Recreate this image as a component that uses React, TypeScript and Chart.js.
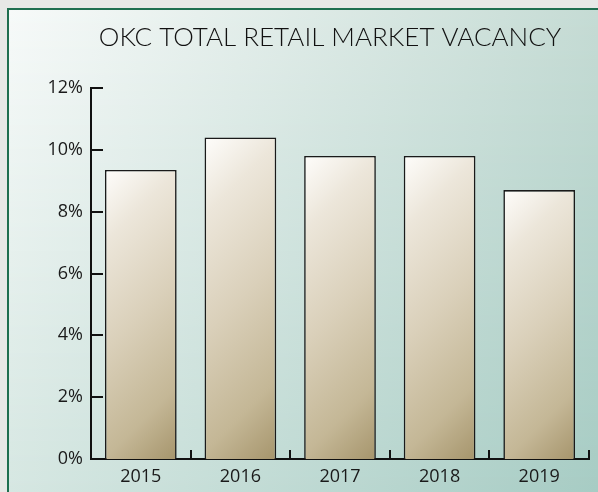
import React, { useEffect, useRef } from "react";
import { Chart, registerables } from "chart.js";

Chart.register(...registerables);

const TITLE = "OKC TOTAL RETAIL MARKET VACANCY";
const YEARS = ["2015", "2016", "2017", "2018", "2019"];
const VACANCY = [9.35, 10.4, 9.8, 9.8, 8.7];
const Y_TICKS = [0, 2, 4, 6, 8, 10, 12];

type RGB = [number, number, number];
const TL: RGB = [247, 250, 249];
const TR: RGB = [197, 219, 212];
const BL: RGB = [214, 231, 226];
const BR: RGB = [167, 204, 196];

const toCss = (a: RGB): string =>
  `rgb(${Math.round(a[0])},${Math.round(a[1])},${Math.round(a[2])})`;
const mix = (a: RGB, b: RGB, t: number): RGB => [
  a[0] + (b[0] - a[0]) * t,
  a[1] + (b[1] - a[1]) * t,
  a[2] + (b[2] - a[2]) * t,
];

const panelPlugin = {
  id: "panel",
  beforeDraw(chart: any) {
    const { ctx, width, height } = chart;
    ctx.save();
    ctx.fillStyle = "#e7e8e6";
    ctx.fillRect(0, 0, width, height);
    const px = 8;
    const py = 9;
    const pw = width - px;
    const ph = height - py;
    for (let y = py; y < height; y += 2) {
      const v = (y - py) / ph;
      const g = ctx.createLinearGradient(px, 0, width, 0);
      g.addColorStop(0, toCss(mix(TL, BL, v)));
      g.addColorStop(1, toCss(mix(TR, BR, v)));
      ctx.fillStyle = g;
      ctx.fillRect(px, y, pw, 2);
    }
    ctx.fillStyle = "#1f6e4f";
    ctx.fillRect(7, 8, 2, height - 8);
    ctx.fillRect(7, 8, width - 7, 2);
    ctx.restore();
  },
  afterDraw(chart: any) {
    const { ctx, chartArea, scales } = chart;
    ctx.save();
    ctx.fillStyle = "#111";
    ctx.font = "300 26px Lato";
    ctx.textAlign = "center";
    ctx.textBaseline = "alphabetic";
    ctx.fillText(TITLE, 330, 46);
    ctx.strokeStyle = "#111";
    ctx.lineWidth = 2;
    ctx.beginPath();
    for (const v of Y_TICKS) {
      if (v === 0) continue;
      const y = Math.round(scales.y.getPixelForValue(v));
      ctx.moveTo(chartArea.left, y);
      ctx.lineTo(chartArea.left + 12, y);
    }
    for (let i = 0; i < YEARS.length; i++) {
      const x =
        i === YEARS.length - 1
          ? chartArea.right
          : (scales.x.getPixelForValue(i) + scales.x.getPixelForValue(i + 1)) / 2;
      const xr = Math.round(x);
      ctx.moveTo(xr, chartArea.bottom);
      ctx.lineTo(xr, chartArea.bottom - 9);
    }
    ctx.stroke();
    ctx.restore();
  },
};

export default function App() {
  const ref = useRef<HTMLCanvasElement | null>(null);

  useEffect(() => {
    document.body.style.margin = "0";
    document.body.style.background = "#e7e8e6";
    const canvas = ref.current;
    if (!canvas) return;
    const chart = new Chart(canvas, {
      type: "bar",
      data: {
        labels: YEARS,
        datasets: [
          {
            data: VACANCY,
            borderColor: "#1a1a1a",
            borderWidth: 1.6,
            categoryPercentage: 1,
            barPercentage: 0.72,
            backgroundColor: (c: any) => {
              const ch = c.chart;
              const sc = ch.scales;
              if (!ch.chartArea || c.type !== "data" || !sc || !sc.x || !sc.y) return "#c9bc9c";
              const i = c.dataIndex;
              const cat = sc.x.getPixelForValue(1) - sc.x.getPixelForValue(0);
              const w = cat * 0.72;
              const x0 = sc.x.getPixelForValue(i) - w / 2;
              const top = sc.y.getPixelForValue(VACANCY[i]);
              const bottom = sc.y.getPixelForValue(0);
              const h = bottom - top;
              const d = (w + h) / 2;
              const g = ch.ctx.createLinearGradient(x0, top, x0 + d, top + d);
              g.addColorStop(0, "#fefdfb");
              g.addColorStop(0.2, "#ece6da");
              g.addColorStop(0.5, "#dad0ba");
              g.addColorStop(0.8, "#c4b796");
              g.addColorStop(1, "#a6956c");
              return g;
            },
          },
        ],
      },
      options: {
        animation: false,
        responsive: true,
        maintainAspectRatio: false,
        layout: { padding: { top: 88, right: 9, left: 0, bottom: 0 } },
        plugins: {
          legend: { display: false },
          title: { display: false },
          tooltip: { enabled: false },
        },
        scales: {
          x: {
            grid: { display: false, drawTicks: false },
            border: { display: true, color: "#111", width: 2 },
            ticks: {
              color: "#1a1a1a",
              font: { family: "'Open Sans'", size: 18 },
              padding: 7,
            },
            afterFit: (s: any) => {
              s.height = 33;
            },
          },
          y: {
            min: 0,
            max: 12,
            grid: { display: false, drawTicks: false },
            border: { display: true, color: "#111", width: 2 },
            ticks: {
              stepSize: 2,
              color: "#1a1a1a",
              font: { family: "'Open Sans'", size: 18 },
              padding: 8,
              callback: (v: any) => `${v}%`,
            },
            afterFit: (s: any) => {
              s.width = 91;
            },
          },
        },
      },
      plugins: [panelPlugin],
    });
    return () => chart.destroy();
  }, []);

  return (
    <div style={{ width: 598, height: 492, position: "relative" }}>
      <canvas ref={ref} />
    </div>
  );
}
